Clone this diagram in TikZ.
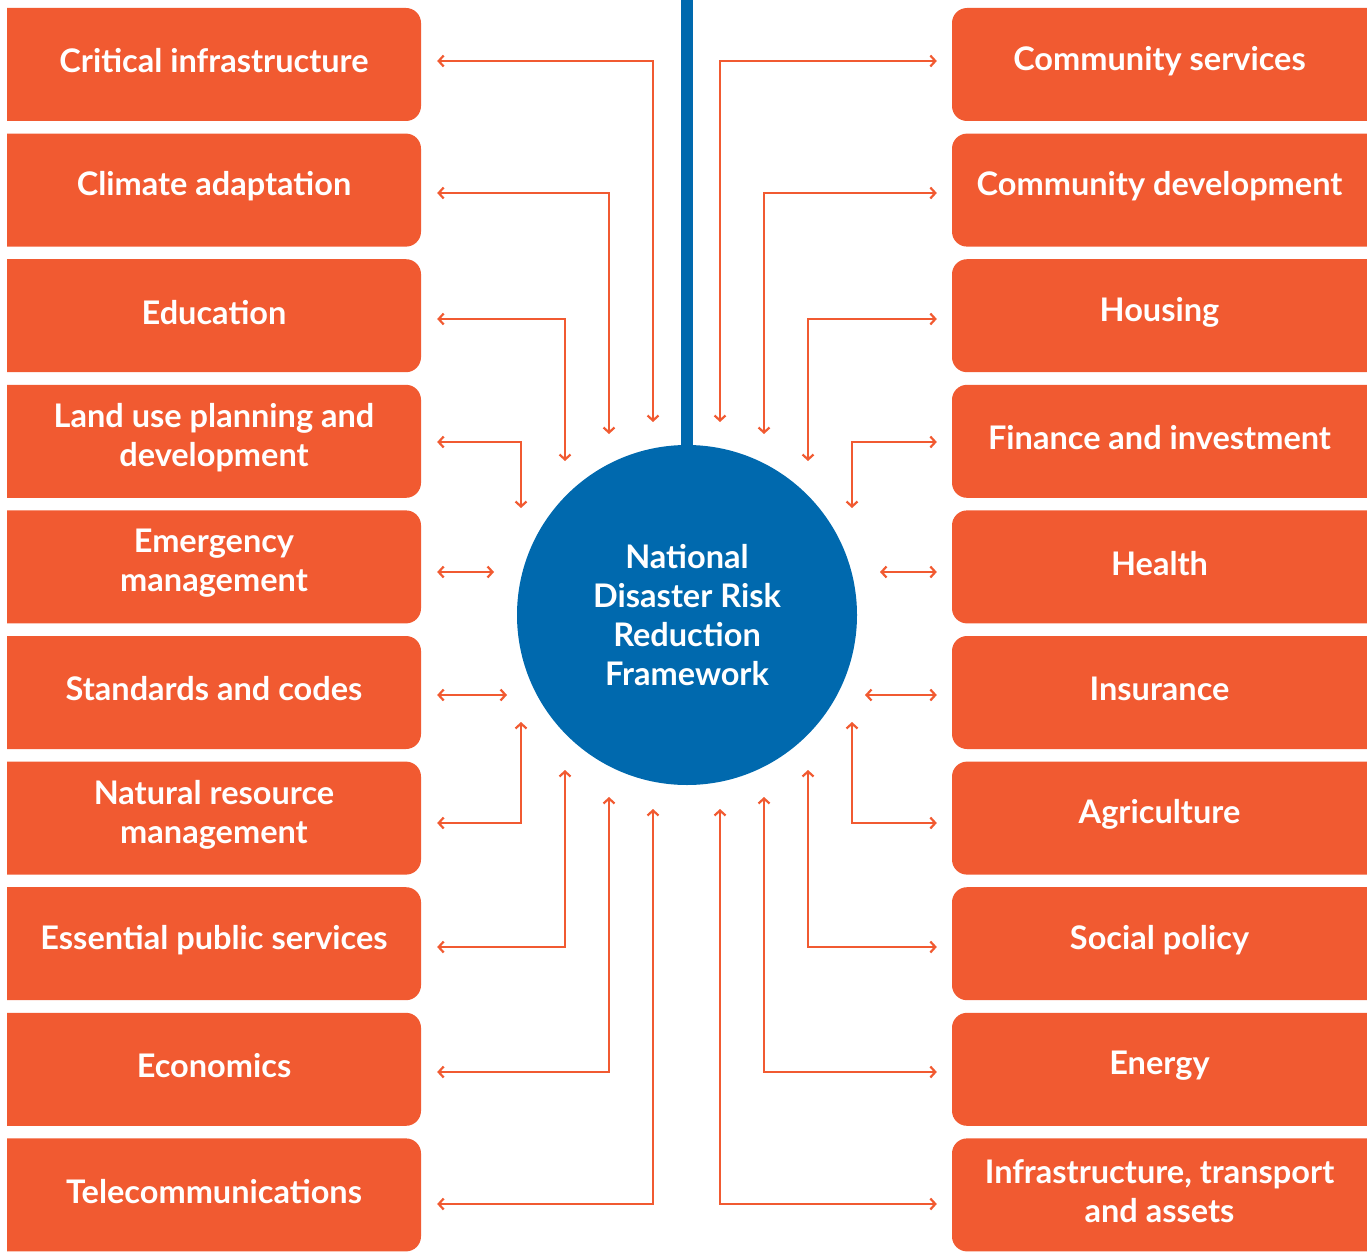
\documentclass[tikz,border=0pt]{standalone}
\usepackage{fontspec}
\setmainfont{Lato}
\usetikzlibrary{arrows.meta}
\definecolor{drorange}{HTML}{F15A31}
\definecolor{drblue}{HTML}{0069AE}
\tikzset{
  sector/.style={minimum width=414pt, minimum height=113pt, inner sep=0pt,
    text=white, align=center, font=\fontsize{32.5}{38.5}\selectfont\bfseries},
  hub/.style={circle, fill=drblue, minimum size=340pt, inner sep=0pt,
    text=white, align=center, font=\fontsize{32.5}{38.7}\selectfont\bfseries},
  link/.style={draw=drorange, line width=2.2pt,
    {Straight Barb[length=5pt,width=11pt]}-{Straight Barb[length=5pt,width=11pt]}},
}
\begin{document}
\begin{tikzpicture}[x=1pt,y=-1pt]
\useasboundingbox (0,0) rectangle (1367,1252);
\clip (0,0) rectangle (1367,1252);

% sector boxes, left column: rounded on the inner side only
\foreach \i/\t in {1/{Critical infrastructure},2/{Climate adaptation},3/{Education},
  4/{Land use planning and\\development},5/{Emergency\\management},6/{Standards and codes},
  7/{Natural resource\\management},8/{Essential public services},9/{Economics},10/{Telecommunications}}{
  \pgfmathsetmacro\bt{8+(\i-1)*125.6}
  \pgfmathsetmacro\bb{\bt+113}
  \begin{scope}
    \clip (7,\bt) rectangle (421,\bb);
    \fill[drorange, rounded corners=15pt] (-30,\bt) rectangle (421,\bb);
  \end{scope}
  \node[sector] (L\i) at (214,{(\bt+\bb)/2-3.5}) {\t};
}
% sector boxes, right column: running off the right edge
\foreach \i/\t in {1/{Community services},2/{Community development},3/{Housing},
  4/{Finance and investment},5/{Health},6/{Insurance},7/{Agriculture},8/{Social policy},
  9/{Energy},10/{Infrastructure, transport\\and assets}}{
  \pgfmathsetmacro\bt{8+(\i-1)*125.6}
  \pgfmathsetmacro\bb{\bt+113}
  \fill[drorange, rounded corners=15pt] (952,\bt) rectangle (1400,\bb);
  \node[sector, minimum width=415pt] (R\i) at (1159.5,{(\bt+\bb)/2-3.5}) {\t};
}

% central framework
\node[hub] (hub) at (687,615) {National\\Disaster Risk\\Reduction\\Framework};
\coordinate (top) at (687,0);
\draw[drblue, line width=12pt] (hub.north) -- (top);

% row levels of the connectors
\foreach \i/\y in {1/61,2/193,3/319,4/442,5/572,6/695,7/823,8/947,9/1072,10/1204}{
  \coordinate (y\i) at (0,\y);
}

% free ends near the hub
\coordinate (la1) at (653,422); \coordinate (la2) at (609,434);
\coordinate (la3) at (565,461); \coordinate (la4) at (521,508);
\coordinate (la5) at (494,572); \coordinate (la6) at (507,695);
\coordinate (la7) at (521,722); \coordinate (la8) at (565,770);
\coordinate (la9) at (609,797); \coordinate (la10) at (653,809);
\coordinate (ra1) at (720,422); \coordinate (ra2) at (764,434);
\coordinate (ra3) at (808,461); \coordinate (ra4) at (852,508);
\coordinate (ra5) at (880,572); \coordinate (ra6) at (865,695);
\coordinate (ra7) at (852,722); \coordinate (ra8) at (808,770);
\coordinate (ra9) at (764,797); \coordinate (ra10) at (720,809);

% left connectors
\foreach \i in {1,2,3,4,7,8,9,10}{
  \draw[link, shorten <=16pt] (L\i.east |- y\i) -| (la\i);
}
\foreach \i in {5,6}{
  \draw[link, shorten <=16pt] (L\i.east |- y\i) -- (la\i);
}
% right connectors
\foreach \i in {1,2,3,4,7,8,9,10}{
  \draw[link, shorten >=15pt] (ra\i) |- (R\i.west |- y\i);
}
\foreach \i in {5,6}{
  \draw[link, shorten >=15pt] (ra\i) -- (R\i.west |- y\i);
}
\end{tikzpicture}
\end{document}
